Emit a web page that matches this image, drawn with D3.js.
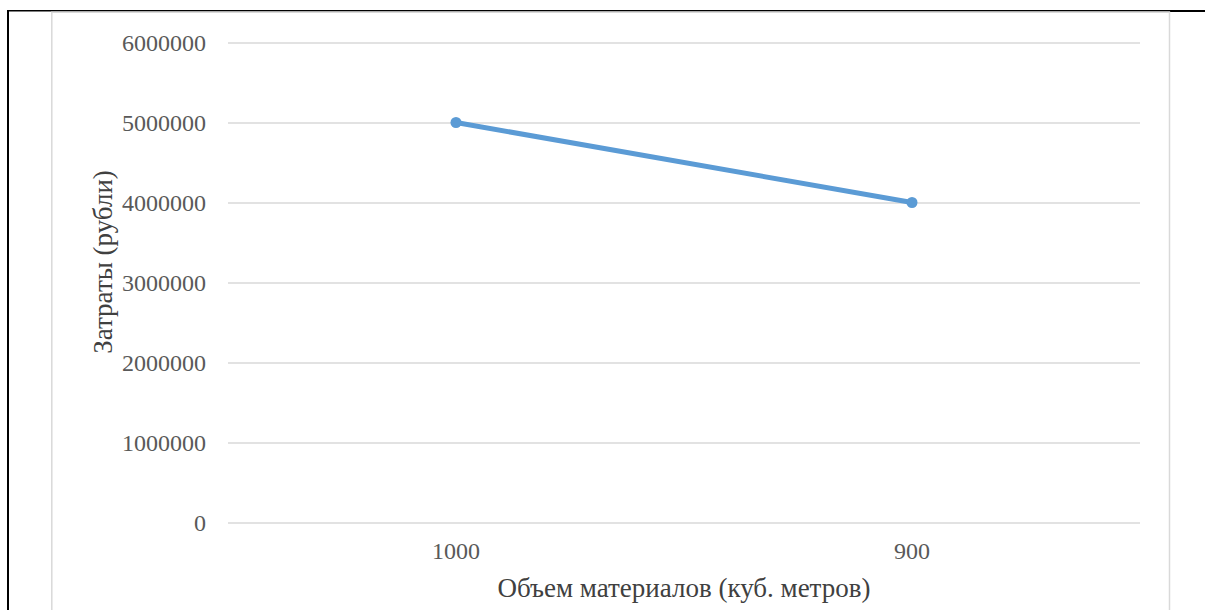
<!DOCTYPE html>
<html>
<head>
<meta charset="utf-8">
<script src="https://cdn.jsdelivr.net/npm/d3@7"></script>
<style>
  html, body { margin: 0; padding: 0; background: #fff; }
  svg { display: block; }
  text { font-family: "Liberation Serif", "Times New Roman", serif; }
</style>
</head>
<body>
<svg id="chart" width="1205" height="610"></svg>
<script>
// Material volume (cubic metres) vs. cost (roubles)
const categories = ["1000", "900"];
const costs = [5000000, 4000000];
const yTicks = [0, 1000000, 2000000, 3000000, 4000000, 5000000, 6000000];
const xTitle = "Объем материалов (куб. метров)";
const yTitle = "Затраты (рубли)";

const svg = d3.select("#chart");
const W = 1205, H = 610;
const plot = { left: 228, right: 1140, top: 42.5, bottom: 522.5 };

// outer frame
svg.append("line").attr("x1", 8).attr("x2", 8).attr("y1", 10).attr("y2", H)
  .attr("stroke", "#000").attr("stroke-width", 2);
svg.append("line").attr("x1", 7).attr("x2", 1170).attr("y1", 10.8).attr("y2", 10.8)
  .attr("stroke", "#000").attr("stroke-width", 1.5);
svg.append("line").attr("x1", 1170).attr("x2", W).attr("y1", 11).attr("y2", 11)
  .attr("stroke", "#000").attr("stroke-width", 2.2);

// chart area border
svg.append("path")
  .attr("d", `M51.8,${H} V12.3 H1169.5 V${H}`)
  .attr("fill", "none").attr("stroke", "#d9d9d9").attr("stroke-width", 1.5);

const x = d3.scaleBand().domain(categories).range([plot.left, plot.right]);
const y = d3.scaleLinear().domain([0, 6000000]).range([plot.bottom, plot.top]);

// y axis: gridlines + labels
const yAxis = d3.axisLeft(y).tickValues(yTicks).tickFormat(d3.format("d"))
  .tickSize(-(plot.right - plot.left)).tickPadding(22);
const gy = svg.append("g").attr("transform", `translate(${plot.left},0)`).call(yAxis);
gy.select(".domain").remove();
gy.selectAll(".tick line").attr("stroke", "#d9d9d9").attr("stroke-width", 1.5);
gy.selectAll(".tick text").attr("fill", "#595959").style("font-size", "24px")
  .attr("dy", "0.34em");

// x axis labels
const xAxis = d3.axisBottom(x).tickSize(0).tickPadding(19);
const gx = svg.append("g").attr("transform", `translate(0,${plot.bottom})`).call(xAxis);
gx.select(".domain").remove();
gx.selectAll(".tick text").attr("fill", "#595959").style("font-size", "24px");

// series line
const line = d3.line().x((d, i) => x(categories[i]) + x.bandwidth() / 2).y(d => y(d));
svg.append("path").datum(costs).attr("d", line)
  .attr("fill", "none").attr("stroke", "#5b9bd5").attr("stroke-width", 5)
  .attr("stroke-linecap", "round");
svg.selectAll("circle.pt").data(costs).join("circle").attr("class", "pt")
  .attr("cx", (d, i) => x(categories[i]) + x.bandwidth() / 2)
  .attr("cy", d => y(d)).attr("r", 5.5).attr("fill", "#5b9bd5");

// axis titles
svg.append("text").attr("x", (plot.left + plot.right) / 2).attr("y", 597)
  .attr("text-anchor", "middle").attr("fill", "#404040").style("font-size", "27px")
  .text(xTitle);
svg.append("text").attr("transform", `translate(112,262) rotate(-90)`)
  .attr("text-anchor", "middle").attr("fill", "#404040").style("font-size", "27px")
  .text(yTitle);
</script>
</body>
</html>
